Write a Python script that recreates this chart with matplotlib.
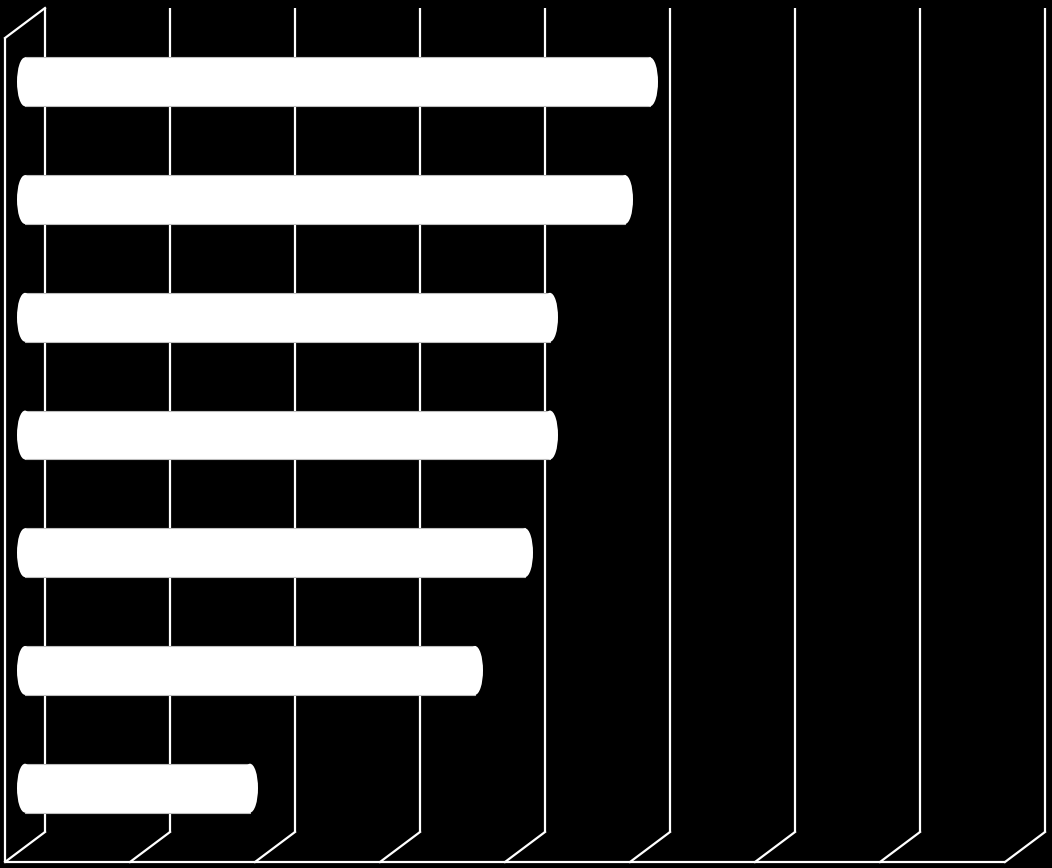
import matplotlib
matplotlib.use("Agg")
import matplotlib.pyplot as plt
from matplotlib.patches import Rectangle, Ellipse
from matplotlib.transforms import offset_copy

# ---- data ----
categories = ["1", "2", "3", "4", "5", "6", "7"]
values = [5.0, 4.8, 4.2, 4.2, 4.0, 3.6, 1.8]
grid_ticks = [0, 1, 2, 3, 4, 5, 6, 7, 8]

W, H = 1052, 868
fig = plt.figure(figsize=(W / 100, H / 100), dpi=100, facecolor="black")
ax = fig.add_axes([45 / W, 36 / H, 1000 / W, 824 / H])
ax.set_facecolor("black")
ax.set_xlim(grid_ticks[0], grid_ticks[-1])
n = len(categories)
ax.set_ylim(n - 0.5, -0.5)
ax.axis("off")

# depth offsets (perspective) in pixels
front = offset_copy(ax.transData, fig=fig, x=-40, y=-30, units="dots")
mid = offset_copy(ax.transData, fig=fig, x=-20, y=-15, units="dots")

lw = 1.6
col = "white"
ytop, ybot = -0.5, n - 0.5
xmin, xmax = grid_ticks[0], grid_ticks[-1]

# back wall gridlines
for t in grid_ticks:
    ax.plot([t, t], [ytop, ybot], color=col, lw=lw, clip_on=False, zorder=1,
            solid_capstyle="butt")
# floor diagonals
for t in grid_ticks:
    p0 = ax.transData.transform((t, ybot))
    p1 = front.transform((t, ybot))
    fig.add_artist(plt.Line2D([p0[0] / W, p1[0] / W], [p0[1] / H, p1[1] / H],
                              color=col, lw=lw, zorder=1,
                              transform=fig.transFigure))
# front floor edge
ax.plot([xmin, xmax], [ybot, ybot], color=col, lw=lw, transform=front,
        clip_on=False, zorder=1, solid_capstyle="butt")
# left side wall: front vertical and top diagonal
ax.plot([xmin, xmin], [ytop, ybot], color=col, lw=lw, transform=front,
        clip_on=False, zorder=1, solid_capstyle="butt")
p0 = ax.transData.transform((xmin, ytop))
p1 = front.transform((xmin, ytop))
fig.add_artist(plt.Line2D([p0[0] / W, p1[0] / W], [p0[1] / H, p1[1] / H],
                          color=col, lw=lw, zorder=1,
                          transform=fig.transFigure))

# cylinder bars
bar_h = 0.415
cap_w = 16 / 125  # ellipse width in data units
for i, v in enumerate(values):
    ax.add_patch(Rectangle((0, i - bar_h / 2), v, bar_h, facecolor="white",
                           edgecolor="#bdbdbd", lw=0.8, transform=mid,
                           clip_on=False, zorder=3))
    for xc in (0, v):
        ax.add_patch(Ellipse((xc, i), cap_w, bar_h, facecolor="white",
                             edgecolor="none", transform=mid,
                             clip_on=False, zorder=4))

fig.savefig("out.png", dpi=100, facecolor="black")
